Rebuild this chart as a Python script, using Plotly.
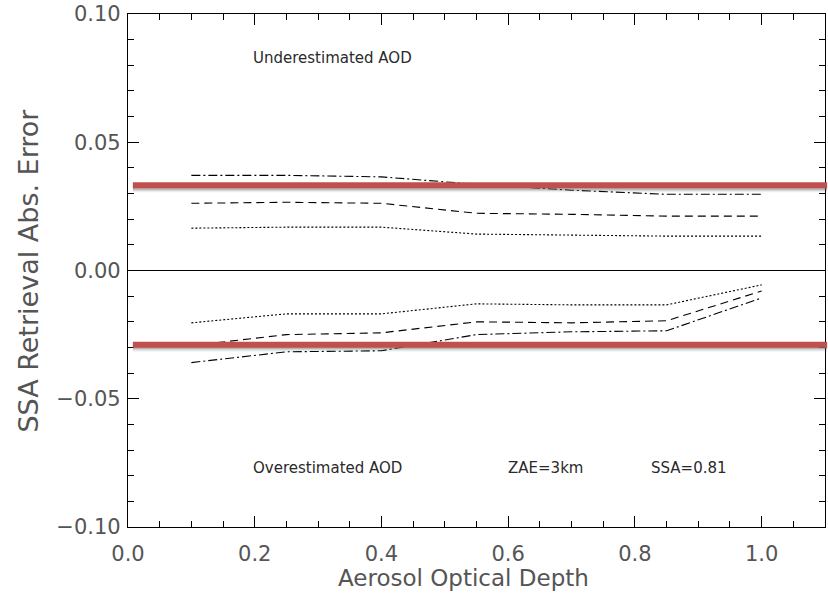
import plotly.graph_objects as go

# Aerosol optical depth sample points
aod = [0.1, 0.25, 0.4, 0.55, 0.7, 0.85, 1.0]

# Positive errors (underestimated AOD)
under_dashdot = [0.0371, 0.0371, 0.0365, 0.0336, 0.0313, 0.0297, 0.0297]
under_dash = [0.0262, 0.0266, 0.0262, 0.0223, 0.0219, 0.0212, 0.0212]
under_dot = [0.0165, 0.0169, 0.0169, 0.0142, 0.0138, 0.0134, 0.0134]

# Negative errors (overestimated AOD)
over_dot = [-0.0204, -0.0169, -0.0169, -0.0130, -0.0134, -0.0134, -0.0056]
over_dash = [-0.0293, -0.0250, -0.0243, -0.0200, -0.0204, -0.0196, -0.0080]
over_dashdot = [-0.0359, -0.0317, -0.0313, -0.0250, -0.0239, -0.0235, -0.0107]

# Threshold levels marked in red
thresholds = [0.0332, -0.0289]

x_ticks = [0.0, 0.2, 0.4, 0.6, 0.8, 1.0]
y_ticks = [-0.10, -0.05, 0.00, 0.05, 0.10]
y_tick_labels = ["\u22120.10", "\u22120.05", "0.00", "0.05", "0.10"]

FONT = "DejaVu Sans"
INK = "#2a2a2a"
LABEL = "#555555"

DASHDOT = "9px,3px,2px,3px"
DASH = "8px,5px"
DOT = "2px,2px"

fig = go.Figure()

series = [
    (under_dashdot, DASHDOT),
    (under_dash, DASH),
    (under_dot, DOT),
    (over_dot, DOT),
    (over_dash, DASH),
    (over_dashdot, DASHDOT),
]
for ys, dash in series:
    fig.add_trace(go.Scatter(
        x=aod, y=ys, mode="lines",
        line=dict(color="black", width=1.1, dash=dash),
        showlegend=False, hoverinfo="skip",
    ))

# Red threshold bars with a soft shadow beneath, spanning past the right frame
shapes = []
for t in thresholds:
    for off, op in [(0.0017, 0.10), (0.0012, 0.18), (0.0007, 0.25)]:
        shapes.append(dict(
            type="line", xref="paper", yref="y",
            x0=0.007, x1=1.003, y0=t - off, y1=t - off,
            line=dict(color=f"rgba(90,90,90,{op})", width=5),
            layer="above",
        ))
    shapes.append(dict(
        type="line", xref="paper", yref="y",
        x0=0.007, x1=1.003, y0=t, y1=t,
        line=dict(color="#c0504d", width=6),
        layer="above",
    ))

annotations = [
    dict(x=0.194, y=0.083, text="Underestimated AOD"),
    dict(x=0.194, y=-0.077, text="Overestimated AOD"),
    dict(x=0.596, y=-0.077, text="ZAE=3km"),
    dict(x=0.822, y=-0.077, text="SSA=0.81"),
]
for a in annotations:
    a.update(xref="x", yref="y", showarrow=False, xanchor="left",
             yanchor="middle", font=dict(family=FONT, size=15, color=INK))

# Axis titles placed as free annotations
annotations.append(dict(
    xref="paper", yref="paper", x=0.481, y=-0.099,
    xanchor="center", yanchor="middle", showarrow=False,
    text="Aerosol Optical Depth",
    font=dict(family=FONT, size=23, color=LABEL),
))
annotations.append(dict(
    xref="paper", yref="paper", x=-0.1433, y=0.5,
    xanchor="center", yanchor="middle", showarrow=False, textangle=-90,
    text="SSA Retrieval Abs. Error",
    font=dict(family=FONT, size=27, color=LABEL),
))

axis_common = dict(
    showgrid=False, showline=True, linecolor="black", linewidth=1.3,
    mirror="ticks", ticks="inside", ticklen=11, tickwidth=1.2,
    tickcolor="black",
    tickfont=dict(family=FONT, size=21, color=LABEL),
)

fig.update_layout(
    width=828, height=597,
    margin=dict(l=128, r=2, t=12, b=70),
    paper_bgcolor="white", plot_bgcolor="white",
    shapes=shapes, annotations=annotations,
    xaxis=dict(
        range=[0, 1.1], tickvals=x_ticks, tickformat=".1f",
        ticklabelstandoff=8,
        minor=dict(dtick=0.05, ticks="inside", ticklen=6,
                   tickcolor="black", tickwidth=1.1),
        zeroline=False,
        **axis_common,
    ),
    yaxis=dict(
        range=[-0.1, 0.1], tickvals=y_ticks, ticktext=y_tick_labels,
        ticklabelstandoff=2,
        minor=dict(dtick=0.01, ticks="inside", ticklen=6,
                   tickcolor="black", tickwidth=1.1),
        zeroline=True, zerolinecolor="black", zerolinewidth=1.4,
        **axis_common,
    ),
)

fig.write_html("out.html")
